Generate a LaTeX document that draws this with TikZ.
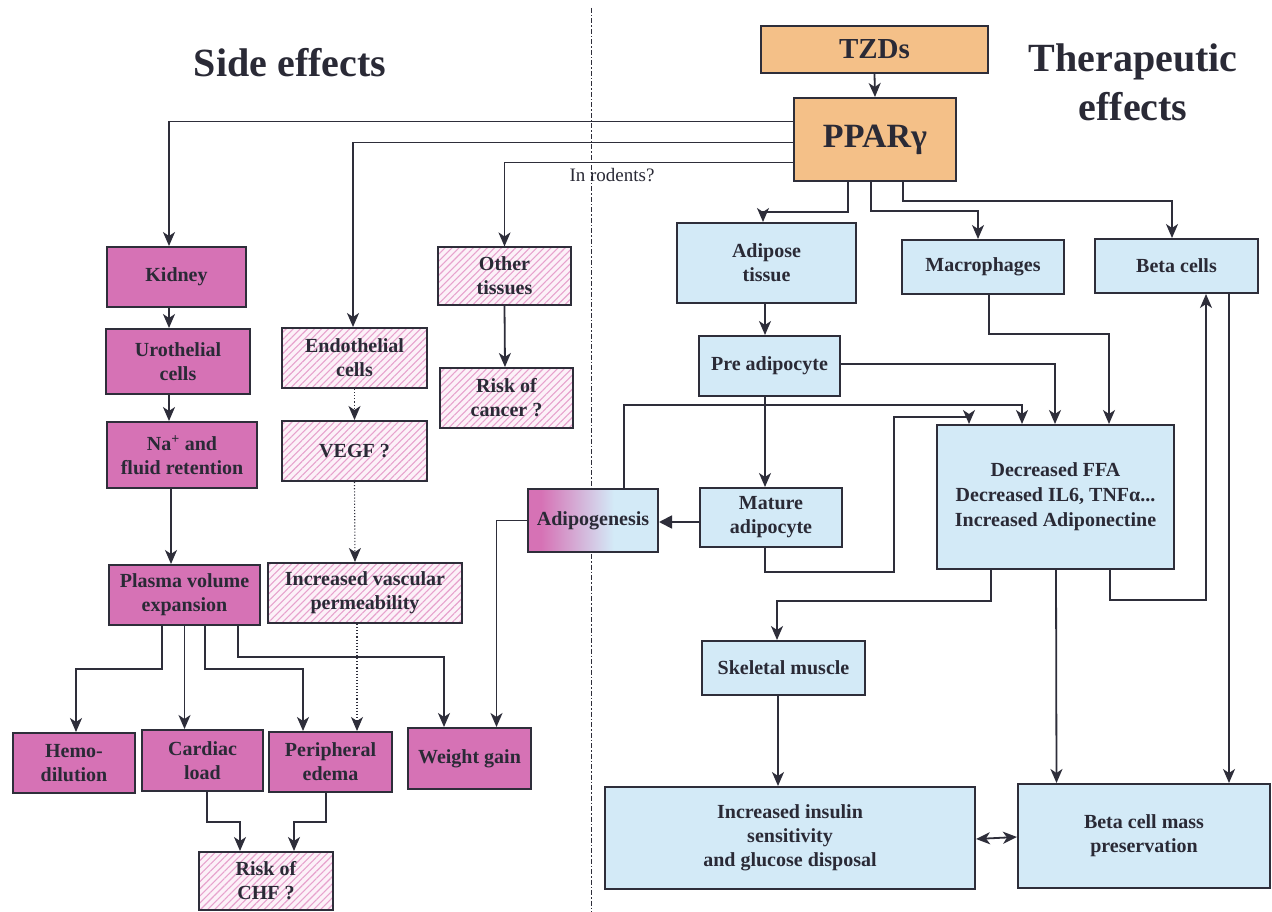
\documentclass[tikz,border=0pt]{standalone}
\usepackage{fontspec}
\setmainfont{Liberation Serif}
\usetikzlibrary{arrows.meta,patterns.meta}
\definecolor{mag}{HTML}{D672B5}
\definecolor{lb}{HTML}{D3EAF7}
\definecolor{orng}{HTML}{F4C088}
\definecolor{hatchline}{HTML}{E7A2CD}
\definecolor{hatchbg}{HTML}{FCF1F8}
\definecolor{edge}{HTML}{2E2E3A}
\definecolor{txt}{HTML}{2A2A36}
\pgfdeclarehorizontalshading{adiposhade}{100bp}{color(0bp)=(mag); color(30bp)=(mag); color(58bp)=(lb); color(100bp)=(lb)}
\begin{document}
\begin{tikzpicture}[x=1pt,y=-1pt,
  box/.style={draw=edge, line width=2pt, inner sep=2pt, align=center, text=txt,
    font=\fontsize{20}{24}\selectfont\bfseries},
  magbox/.style={box, fill=mag},
  hatchbox/.style={box, preaction={fill=hatchbg},
    pattern={Lines[angle=45,distance=5pt,line width=1.1pt]}, pattern color=hatchline},
  bluebox/.style={box, fill=lb},
  orbox/.style={box, fill=orng},
  tip/.tip={Stealth[length=14pt,width=12pt,inset=4pt]},
  arr/.style={line width=1.8pt, draw=edge, -tip},
  dotarr/.style={arr, line width=1.1pt, dotted},
  triarr/.style={line width=1.8pt, draw=edge, -{Triangle[length=13pt,width=13pt]}},
  title/.style={text=txt, align=center, font=\fontsize{40}{49}\selectfont\bfseries},
  divider/.style={draw=edge, line width=1pt, dash pattern=on 5pt off 2pt on 1.5pt off 2pt}
]
\useasboundingbox[fill=white] (0,0) rectangle (1272,912);

% titles
\node[title] (t1) at (290,63) {Side effects};
\node[title] (t2) at (1133,82) {Therapeutic\\effects};

% divider
\draw[divider] (591,8) -- (591,912);

% top nodes
\node[orbox, minimum width=227pt, minimum height=47pt, font=\fontsize{29}{34}\selectfont\bfseries] (tzd) at (874.5,49.5) {TZDs};
\node[orbox, minimum width=162pt, minimum height=83pt, font=\fontsize{34}{40}\selectfont\bfseries] (ppar) at (875,139.5) {PPARγ};

% side effects
\node[magbox, minimum width=139pt, minimum height=60pt] (kidney) at (176.5,277) {Kidney};
\node[hatchbox, minimum width=133pt, minimum height=58pt] (other) at (504.5,276) {Other\\tissues};
\node[magbox, minimum width=144pt, minimum height=65pt] (uro) at (178,361.5) {Urothelial\\cells};
\node[hatchbox, minimum width=145pt, minimum height=60pt] (endo) at (354.5,358) {Endothelial\\cells};
\node[hatchbox, minimum width=133pt, minimum height=60pt] (cancer) at (506.5,398) {Risk of\\cancer ?};
\node[magbox, minimum width=150pt, minimum height=66pt] (na) at (182,455) {Na\textsuperscript{+} and\\fluid retention};
\node[hatchbox, minimum width=145pt, minimum height=60pt] (vegf) at (354.5,451) {VEGF ?};
\node[magbox, minimum width=151pt, minimum height=60pt] (plasma) at (184.5,595) {Plasma volume\\expansion};
\node[hatchbox, minimum width=194pt, minimum height=60pt] (vasc) at (365,593) {Increased vascular\\permeability};
\node[magbox, minimum width=122pt, minimum height=60pt] (hemo) at (74,763) {Hemo-\\dilution};
\node[magbox, minimum width=121pt, minimum height=61pt] (cardiac) at (202.5,760.5) {Cardiac\\load};
\node[magbox, minimum width=123pt, minimum height=60pt] (periph) at (330.5,762) {Peripheral\\edema};
\node[magbox, minimum width=123pt, minimum height=61pt] (weight) at (469.5,758.5) {Weight gain};
\node[hatchbox, minimum width=134pt, minimum height=58pt] (chf) at (266,881) {Risk of\\CHF ?};
\node[box, shade, shading=adiposhade, minimum width=130pt, minimum height=63pt] (adipogen) at (593,520.5) {Adipogenesis};

% therapeutic
\node[bluebox, minimum width=179pt, minimum height=80pt] (adipose) at (766.5,263) {Adipose\\tissue};
\node[bluebox, minimum width=162pt, minimum height=54pt] (macro) at (983,267) {Macrophages};
\node[bluebox, minimum width=163pt, minimum height=54pt] (beta) at (1176.5,266) {Beta cells};
\node[bluebox, minimum width=141pt, minimum height=60pt] (pre) at (769.5,366) {Pre adipocyte};
\node[bluebox, minimum width=142pt, minimum height=59pt] (mature) at (771,517.5) {Mature\\adipocyte};
\node[bluebox, minimum width=237pt, minimum height=144pt, font=\fontsize{20}{25}\selectfont\bfseries] (decr) at (1055.5,497) {Decreased FFA\\Decreased IL6, TNFα...\\Increased Adiponectine};
\node[bluebox, minimum width=163pt, minimum height=54pt] (skel) at (783.5,668) {Skeletal muscle};
\node[bluebox, minimum width=370pt, minimum height=102pt] (insulin) at (790,838) {Increased insulin\\sensitivity\\and glucose disposal};
\node[bluebox, minimum width=252pt, minimum height=104pt] (betamass) at (1144,836) {Beta cell mass\\preservation};

% label
\node[text=txt, font=\fontsize{19}{22}\selectfont] (rodents) at (612,175) {In rodents?};

% connectors from TZDs / PPAR
\draw[arr] (tzd.south) -- (ppar.north);
\draw[arr] ([yshift=18pt]ppar.west) -| ([xshift=-7.5pt]kidney.north);
\draw[arr] ([yshift=-3pt]ppar.west) -| ([xshift=-1.5pt]endo.north);
\draw[arr] ([yshift=-23pt]ppar.west) -| (other.north);
\draw[arr] ([xshift=-27pt]ppar.south) -- ++(0,30) -| ([xshift=-3.5pt]adipose.north);
\draw[arr] ([xshift=-4pt]ppar.south) -- ++(0,29) -| ([xshift=-5pt]macro.north);
\draw[arr] ([xshift=28pt]ppar.south) -- ++(0,19) -| ([xshift=-4.5pt]beta.north);

% side effect chain
\draw[arr] ([xshift=-7.5pt]kidney.south) -- ([xshift=-9pt]uro.north);
\draw[arr] ([xshift=-9pt]uro.south) -- ([xshift=-13pt]na.north);
\draw[arr] ([xshift=-11pt]na.south) -- ([xshift=-13.5pt]plasma.north);
\draw[dotarr] (endo.south) -- (vegf.north);
\draw[dotarr] (vegf.south) -- ([xshift=-10pt]vasc.north);
\draw[arr] (other.south) -- ([xshift=-1.5pt]cancer.north);
\draw[arr] ([xshift=-22.5pt]plasma.south) -- ++(0,43) -| ([xshift=2pt]hemo.north);
\draw[arr] (plasma.south) -- ([xshift=-18pt]cardiac.north);
\draw[arr] ([xshift=20.5pt]plasma.south) -- ++(0,43) -| ([xshift=-27.5pt]periph.north);
\draw[arr] ([xshift=53.5pt]plasma.south) -- ++(0,31) -| ([xshift=-25.5pt]weight.north);
\draw[dotarr] ([xshift=-8pt]vasc.south) -- ([xshift=26.5pt]periph.north);
\draw[arr] (adipogen.west) -| ([xshift=27pt]weight.north);
\draw[arr] ([xshift=4.5pt]cardiac.south) -- ++(0,30) -| ([xshift=-26pt]chf.north);
\draw[arr] ([xshift=-4.5pt]periph.south) -- ++(0,29) -| ([xshift=28pt]chf.north);

% therapeutic chain
\draw[arr] ([xshift=-1.5pt]adipose.south) -- ([xshift=-4.5pt]pre.north);
\draw[arr] ([xshift=-4.5pt]pre.south) -- ([xshift=-6pt]mature.north);
\draw[triarr] ([yshift=-4.5pt]mature.west) -- ([yshift=-1.5pt]adipogen.east);
\draw[arr] ([yshift=2pt]pre.east) -| ([xshift=-0.5pt]decr.north);
\draw[arr] ([xshift=6pt]macro.south) -- ++(0,39) -| ([xshift=53.5pt]decr.north);
\draw[arr] ([xshift=31pt]adipogen.north) -- ++(0,-83) -| ([xshift=-33.5pt]decr.north);
\draw[arr] ([xshift=-6pt]mature.south) -- ++(0,24) -- ++(129,0) -- ++(0,-155) -| ([xshift=-86.5pt]decr.north);
\draw[arr] ([xshift=-64.5pt]decr.south) -- ++(0,31) -| ([xshift=-6.5pt]skel.north);
\draw[arr] ([xshift=0.5pt]decr.south) -- ([xshift=-87.5pt]betamass.north);
\draw[arr] ([xshift=54.5pt]decr.south) -- ++(0,30) -| ([xshift=29.5pt]beta.south);
\draw[arr] ([xshift=52.5pt]beta.south) -- ([xshift=85pt]betamass.north);
\draw[arr] ([xshift=-5.5pt]skel.south) -- ([xshift=-12pt]insulin.north);
\draw[line width=1.8pt, draw=edge, tip-tip] ([yshift=-1pt]insulin.east) -- ([yshift=-1pt]betamass.west);
\end{tikzpicture}
\end{document}
